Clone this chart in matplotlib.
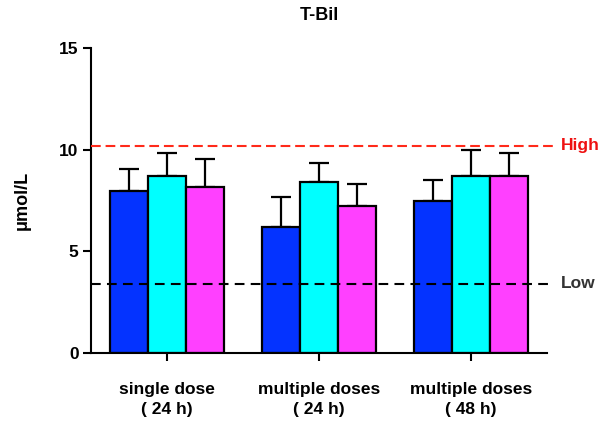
import matplotlib
matplotlib.use('Agg')
import matplotlib.pyplot as plt
import numpy as np

plt.rcParams['font.family'] = ['Liberation Sans', 'DejaVu Sans']
plt.rcParams['font.weight'] = 'bold'
plt.rcParams['lines.scale_dashes'] = False

groups = ['single dose\n( 24 h)', 'multiple doses\n( 24 h)', 'multiple doses\n( 48 h)']
mean_a = [7.97, 6.18, 7.48]
err_a = [1.06, 1.51, 1.01]
mean_b = [8.71, 8.43, 8.69]
err_b = [1.11, 0.90, 1.27]
mean_c = [8.18, 7.21, 8.69]
err_c = [1.34, 1.12, 1.14]
colors = ['#0433FF', '#00FFFF', '#FF40FF']
high = 10.2
low = 3.4

fig = plt.figure(figsize=(6.08, 4.21), dpi=100)
ax = fig.add_axes([0.1497, 0.1615, 0.75, 0.7245])

x = np.arange(len(groups))
w = 0.25
for off, m, e, c in zip([-w, 0, w], [mean_a, mean_b, mean_c], [err_a, err_b, err_c], colors):
    ax.bar(x + off, m, w, color=c, edgecolor='black', linewidth=1.6, zorder=2)
    ax.errorbar(x + off, m, yerr=[np.zeros(3), e], fmt='none', ecolor='black',
                elinewidth=1.6, capsize=7, capthick=1.6, zorder=1)

ax.plot([-0.5, 2.54], [high, high], color='#FF2A1A', lw=1.5, dashes=(7, 3.5), clip_on=False, zorder=3)
ax.plot([-0.5, 2.54], [low, low], color='black', lw=1.5, dashes=(7, 4.5), clip_on=False, zorder=3)
ax.text(2.59, high, 'High', color='#EE1111', fontsize=12.5, fontweight='bold', va='center', ha='left')
ax.text(2.59, low, 'Low', color='#333333', fontsize=12.5, fontweight='bold', va='center', ha='left')

ax.set_xlim(-0.5, 2.5)
ax.set_ylim(0, 15)
ax.set_yticks([0, 5, 10, 15])
ax.set_xticks(x)
ax.set_xticklabels(groups, fontsize=12.5, fontweight='bold', linespacing=1.4)
ax.tick_params(axis='y', labelsize=12.5, width=1.5, length=6, pad=3)
ax.tick_params(axis='x', width=1.5, length=6, pad=15)
for s in ['top', 'right']:
    ax.spines[s].set_visible(False)
for s in ['left', 'bottom']:
    ax.spines[s].set_linewidth(1.5)
ax.set_ylabel('μmol/L', fontsize=13, fontweight='bold', labelpad=20)
ax.set_title('T-Bil', fontsize=13, fontweight='bold', pad=20)

fig.savefig('out.png', dpi=100)
